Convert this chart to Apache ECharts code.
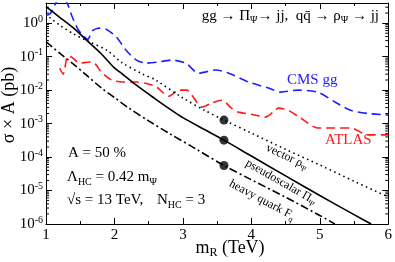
<!DOCTYPE html>
<html><head><meta charset="utf-8">
<script src="https://cdn.jsdelivr.net/npm/echarts@6/dist/echarts.min.js"></script>
<style>html,body{margin:0;padding:0;background:#fff}#c{width:395px;height:262px}</style>
</head><body><div id="c"></div>
<script>
const FONT = 'Liberation Serif';
const xTicks = [1, 2, 3, 4, 5, 6];
const yMin = 1e-6, yMax = 4;
const minorMultipliers = [2, 3, 4, 5, 6, 7, 8, 9];
const decades = [1e-6, 1e-5, 1e-4, 1e-3, 1e-2, 1e-1, 1];

// CMS gg limit (blue dashed)
const cmsM = [1.0, 1.06, 1.15, 1.2, 1.27, 1.32, 1.38, 1.46, 1.54, 1.61, 1.68, 1.78, 1.88, 2.03, 2.17, 2.32, 2.46, 2.62, 2.84, 3.04, 3.23, 3.48, 3.67, 3.96, 4.25, 4.43, 4.68, 4.97, 5.22, 5.45, 5.70, 6.0];
const cmsV = [1.7, 1.9, 4.2, 5.5, 5.0, 3.5, 1.6, 0.7, 0.42, 0.33, 0.6, 0.71, 0.66, 0.38, 0.156, 0.079, 0.064, 0.068, 0.079, 0.064, 0.032, 0.040, 0.032, 0.0174, 0.0115, 0.0087, 0.010, 0.0087, 0.0044, 0.0025, 0.0020, 0.0018];
// ATLAS limit (red dashed)
const atlasM = [1.20, 1.25, 1.32, 1.38, 1.49, 1.64, 1.71, 1.81, 1.96, 2.12, 2.32, 2.46, 2.62, 2.70, 2.80, 2.94, 3.06, 3.13, 3.28, 3.42, 3.57, 3.71, 3.81, 4.0, 4.2, 4.35, 4.39, 4.54, 4.72, 4.97, 5.22, 5.45, 5.70, 6.0];
const atlasV = [0.045, 0.03, 0.105, 0.095, 0.064, 0.069, 0.064, 0.034, 0.020, 0.0174, 0.0174, 0.016, 0.0123, 0.0087, 0.0066, 0.010, 0.010, 0.0071, 0.0031, 0.0041, 0.0050, 0.0029, 0.0022, 0.0019, 0.00156, 0.0025, 0.0029, 0.0025, 0.00146, 0.00074, 0.00074, 0.00074, 0.00046, 0.00046];
// vector rho (dotted)
const vecM = [1.05, 1.2, 1.4, 1.6, 1.9, 2.1, 2.4, 2.6, 3.0, 3.3, 3.6, 4.0, 4.5, 5.0, 5.5, 6.0];
const vecV = [1.5, 0.87, 0.48, 0.30, 0.15, 0.068, 0.031, 0.020, 0.0058, 0.0026, 0.00127, 5.2e-4, 1.7e-4, 5.8e-5, 1.9e-5, 6.4e-6];
// pseudoscalar Pi (solid)
const psM = [1.0, 1.2, 1.4, 1.6, 1.8, 2.0, 2.1, 2.3, 2.6, 2.8, 3.0, 3.3, 3.6, 4.0, 4.5, 5.0, 5.5, 5.75];
const psV = [3.1, 1.5, 0.72, 0.30, 0.126, 0.046, 0.032, 0.015, 0.0054, 0.0028, 0.0015, 6.9e-4, 3.2e-4, 1.07e-4, 2.75e-5, 7.1e-6, 1.9e-6, 1.0e-6];
// heavy quark F (dash-dot)
const hqM = [1.0, 1.2, 1.4, 1.6, 1.8, 2.0, 2.2, 2.5, 2.8, 3.2, 3.6, 4.0, 4.5, 5.0, 5.22];
const hqV = [0.28, 0.127, 0.060, 0.027, 0.012, 0.0060, 0.0030, 0.0012, 5.1e-4, 1.7e-4, 5.6e-5, 2.1e-5, 6.3e-6, 1.8e-6, 1.0e-6];
// benchmark dots
const dotM = [3.6, 3.6, 3.6];
const dotV = [1.27e-3, 3.2e-4, 5.6e-5];

const zip = (a, b) => a.map((v, i) => [v, b[i]]);
const minorVals = [];
decades.forEach(d => minorMultipliers.forEach(k => { if (k * d < yMax) minorVals.push([1, k * d]); }));

const chart = echarts.init(document.getElementById('c'), null, {renderer: 'canvas'});
const subRich = {
  n: {fontFamily: FONT, fontSize: 15, lineHeight: 20, color: '#000'},
  s: {fontFamily: FONT, fontSize: 10, lineHeight: 10, verticalAlign: 'bottom', color: '#000'}
};
const smallRich = {
  n: {fontFamily: FONT, fontSize: 12, lineHeight: 16, color: '#000'},
  s: {fontFamily: FONT, fontSize: 8, lineHeight: 8, verticalAlign: 'bottom', color: '#000'}
};
const axisCommon = {
  axisLine: {show: true, onZero: false, lineStyle: {color: '#000', width: 1}},
  splitLine: {show: false}
};
const option = {
  animation: false,
  grid: {left: 46, right: 4, top: 3, bottom: 38, containLabel: false},
  xAxis: [
    Object.assign({
      type: 'value', min: 1, max: 6, interval: 1, position: 'bottom',
      axisTick: {inside: true, length: 6, lineStyle: {color: '#000'}},
      minorTick: {show: true, splitNumber: 2, length: 3, lineStyle: {color: '#000'}},
      axisLabel: {margin: 4, fontFamily: FONT, fontSize: 15, color: '#000',
        formatter: v => xTicks.includes(v) ? String(v) : ''}
    }, axisCommon),
    Object.assign({
      type: 'value', min: 1, max: 6, interval: 1, position: 'top',
      axisTick: {inside: true, length: 6, lineStyle: {color: '#000'}},
      minorTick: {show: true, splitNumber: 2, length: 3, lineStyle: {color: '#000'}},
      axisLabel: {show: false}
    }, axisCommon)
  ],
  yAxis: [
    Object.assign({
      type: 'log', logBase: 10, min: yMin, max: yMax, splitNumber: 7, position: 'left',
      axisTick: {inside: true, length: 6, lineStyle: {color: '#000'}},
      axisLabel: {margin: 3, color: '#000',
        formatter: v => {
          const e = Math.log10(v);
          const r = Math.round(e);
          if (Math.abs(e - r) > 1e-6) return '';
          return '{b|10}{p|' + r + '}';
        },
        rich: {
          b: {fontFamily: FONT, fontSize: 15, lineHeight: 18, color: '#000'},
          p: {fontFamily: FONT, fontSize: 10, lineHeight: 10, verticalAlign: 'top', color: '#000'}
        }
      }
    }, axisCommon),
    Object.assign({
      type: 'log', logBase: 10, min: yMin, max: yMax, splitNumber: 7, position: 'right',
      axisTick: {inside: true, length: 6, lineStyle: {color: '#000'}},
      axisLabel: {show: false}
    }, axisCommon)
  ],
  series: [
    {type: 'custom', xAxisIndex: 0, yAxisIndex: 0, silent: true, clip: false, data: minorVals,
      renderItem: (params, api) => {
        const cs = params.coordSys;
        const y = api.coord([api.value(0), api.value(1)])[1];
        if (y < cs.y || y > cs.y + cs.height) return null;
        return {type: 'group', children: [
          {type: 'line', shape: {x1: cs.x, y1: y, x2: cs.x + 3, y2: y}, style: {stroke: '#000', lineWidth: 1}},
          {type: 'line', shape: {x1: cs.x + cs.width - 3, y1: y, x2: cs.x + cs.width, y2: y}, style: {stroke: '#000', lineWidth: 1}}
        ]};
      }},
    {name: 'CMS gg', type: 'line', data: zip(cmsM, cmsV), showSymbol: false, smooth: 0.25, clip: true,
      lineStyle: {color: '#1f1fff', width: 1.6, type: [9, 5]}},
    {name: 'ATLAS', type: 'line', data: zip(atlasM, atlasV), showSymbol: false, smooth: 0.25, clip: true,
      lineStyle: {color: '#ff1a1a', width: 1.6, type: [9, 5]}},
    {name: 'vector', type: 'line', data: zip(vecM, vecV), showSymbol: false, smooth: 0.3, clip: true,
      lineStyle: {color: '#000', width: 1.6, type: [1.5, 3.5]}},
    {name: 'pseudoscalar', type: 'line', data: zip(psM, psV), showSymbol: false, smooth: 0.3, clip: true,
      lineStyle: {color: '#000', width: 1.6}},
    {name: 'heavy quark', type: 'line', data: zip(hqM, hqV), showSymbol: false, smooth: 0.3, clip: true,
      lineStyle: {color: '#000', width: 1.6, type: [8, 3, 2, 3]}},
    {name: 'benchmarks', type: 'scatter', data: zip(dotM, dotV), symbolSize: 9,
      itemStyle: {color: '#000'}}
  ],
  graphic: [
    {type: 'text', x: 379, y: 16, style: {align: 'right', verticalAlign: 'middle',
      text: '{n|gg → Π}{s|Ψ}{n|→ jj,  qq\u0304 → ρ}{s|Ψ}{n| → jj}', rich: {
        n: {fontFamily: FONT, fontSize: 15, lineHeight: 19, color: '#000'},
        s: {fontFamily: FONT, fontSize: 10, lineHeight: 10, verticalAlign: 'bottom', color: '#000'}}}},
    {type: 'text', x: 287, y: 80, style: {text: 'CMS gg', fontFamily: FONT, fontSize: 15, fill: '#1f1fff', align: 'left', verticalAlign: 'middle'}},
    {type: 'text', x: 325, y: 140, style: {text: 'ATLAS', fontFamily: FONT, fontSize: 15, fill: '#ff1a1a', align: 'left', verticalAlign: 'middle'}},
    {type: 'text', x: 68, y: 153, style: {text: 'A = 50 %', fontFamily: FONT, fontSize: 15, fill: '#000', align: 'left', verticalAlign: 'middle'}},
    {type: 'text', x: 67, y: 177, style: {align: 'left', verticalAlign: 'middle',
      text: '{n|Λ}{s|HC}{n| = 0.42 m}{s|Ψ}', rich: subRich}},
    {type: 'text', x: 67, y: 200, style: {align: 'left', verticalAlign: 'middle',
      text: '{n|√s = 13 TeV,}', rich: subRich}},
    {type: 'text', x: 157, y: 200, style: {align: 'left', verticalAlign: 'middle',
      text: '{n|N}{s|HC}{n| = 3}', rich: subRich}},
    {type: 'text', x: 287, y: 157, rotation: -0.44, style: {align: 'center', verticalAlign: 'middle',
      text: '{n|vector ρ}{s|Ψ}', rich: smallRich}},
    {type: 'text', x: 281, y: 182, rotation: -0.52, style: {align: 'center', verticalAlign: 'middle',
      text: '{n|pseudoscalar Π}{s|Ψ}', rich: smallRich}},
    {type: 'text', x: 262, y: 200, rotation: -0.49, style: {align: 'center', verticalAlign: 'middle',
      text: '{n|heavy quark F}{s|q}', rich: smallRich}},
    {type: 'text', x: 230, y: 248, style: {align: 'center', verticalAlign: 'middle',
      text: '{n|m}{s|R}{n| (TeV)}', rich: {
        n: {fontFamily: FONT, fontSize: 18, lineHeight: 22, color: '#000'},
        s: {fontFamily: FONT, fontSize: 12, lineHeight: 12, verticalAlign: 'bottom', color: '#000'}}}},
    {type: 'text', x: 9, y: 105, rotation: Math.PI / 2, style: {align: 'center', verticalAlign: 'middle',
      text: 'σ × A (pb)', fontFamily: FONT, fontSize: 18, fill: '#000'}}
  ]
};
chart.setOption(option);
</script>
</body></html>
